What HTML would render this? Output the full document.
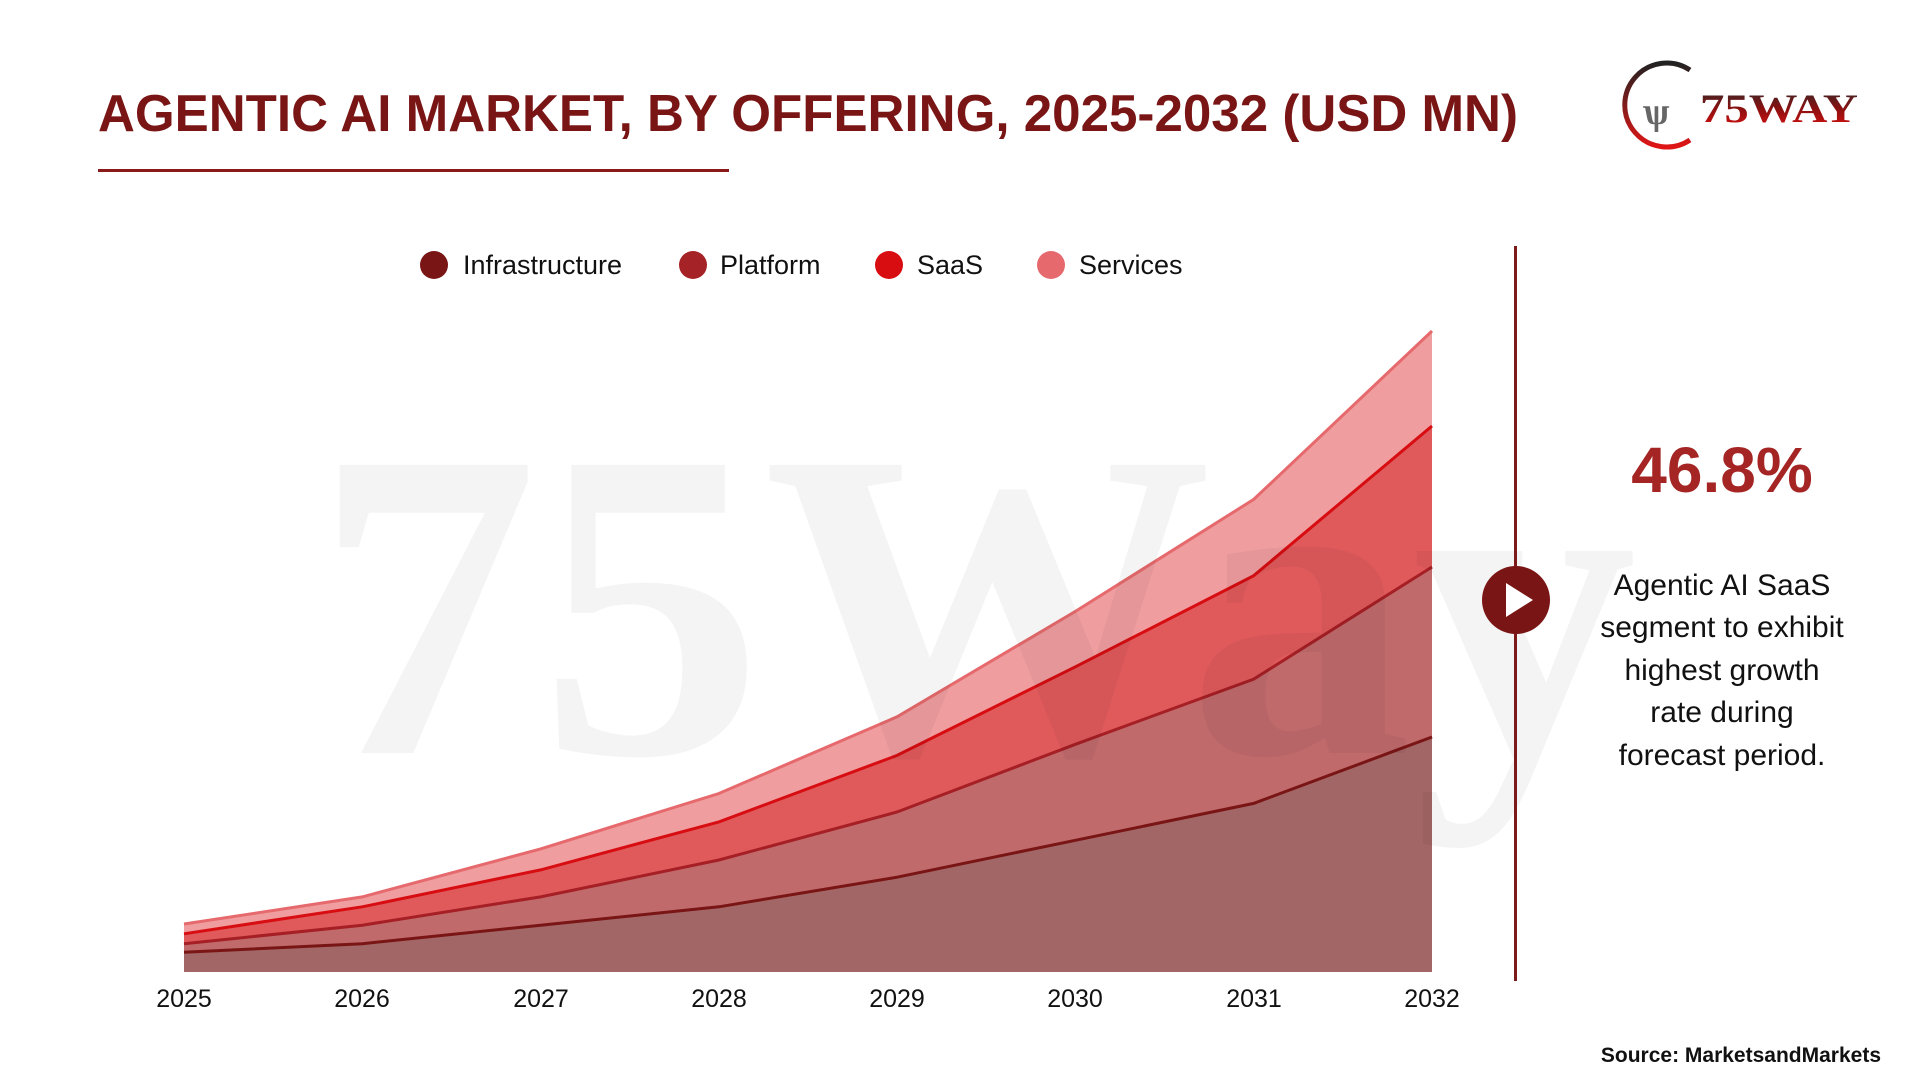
<!DOCTYPE html>
<html><head><meta charset="utf-8"><style>
html,body{margin:0;padding:0;background:#fff;}
svg{display:block;}
</style></head><body>
<svg width="1920" height="1080" viewBox="0 0 1920 1080" xmlns="http://www.w3.org/2000/svg" font-family="Liberation Sans, Arial, sans-serif">
<defs>
<linearGradient id="lg" x1="0" y1="0" x2="0" y2="1"><stop offset="0" stop-color="#2a2a2a"/><stop offset="0.5" stop-color="#8a1010"/><stop offset="1" stop-color="#e01010"/></linearGradient>
<linearGradient id="ag" x1="0" y1="0" x2="0" y2="1"><stop offset="0" stop-color="#222"/><stop offset="1" stop-color="#e01515"/></linearGradient>
</defs>
<rect width="1920" height="1080" fill="#fff"/>
<text x="98" y="131" font-size="52" font-weight="bold" fill="#7a1515" textLength="1420" lengthAdjust="spacingAndGlyphs">AGENTIC AI MARKET, BY OFFERING, 2025-2032 (USD MN)</text>
<rect x="98" y="169" width="631" height="3" fill="#8a1a1a"/>
<!-- logo -->
<path d="M1690 70 A42 42 0 1 0 1690 140" fill="none" stroke="url(#ag)" stroke-width="5"/>
<text x="1643" y="124" font-family="Liberation Serif, serif" font-weight="bold" font-size="38" fill="#666">ѱ</text>
<text x="1700" y="122" font-family="Liberation Serif, serif" font-weight="bold" font-size="40" fill="url(#lg)" textLength="158" lengthAdjust="spacingAndGlyphs">75WAY</text>
<!-- legend -->
<g font-size="27" fill="#111">
<circle cx="434" cy="265" r="14" fill="#7a1515"/><text x="463" y="274">Infrastructure</text>
<circle cx="693" cy="265" r="14" fill="#a52326"/><text x="720" y="274">Platform</text>
<circle cx="889" cy="265" r="14" fill="#d70d12"/><text x="917" y="274">SaaS</text>
<circle cx="1051" cy="265" r="14" fill="#e66a6d"/><text x="1079" y="274">Services</text>
</g>
<!-- areas -->
<polygon fill="#ef9d9f" points="184,924 362.3,896.9 540.6,848.9 718.9,793.5 897.1,716.8 1075.4,611.4 1253.7,499.4 1432,331 1432,972 184,972"/>
<polygon fill="#e05a5c" points="184,933.8 362.3,906.8 540.6,869.9 718.9,821.9 897.1,755.4 1075.4,666.8 1253.7,575.7 1432,426 1432,972 184,972"/>
<polygon fill="#c06a6c" points="184,943.7 362.3,925.2 540.6,896.9 718.9,860 897.1,812 1075.4,744.3 1253.7,679.1 1432,567 1432,972 184,972"/>
<polygon fill="#a36666" points="184,952.3 362.3,943.7 540.6,925.2 718.9,906.8 897.1,877.2 1075.4,840.3 1253.7,803.4 1432,737 1432,972 184,972"/>
<g fill="none" stroke-width="3">
<polyline stroke="#e66a6d" points="184,924 362.3,896.9 540.6,848.9 718.9,793.5 897.1,716.8 1075.4,611.4 1253.7,499.4 1432,331"/>
<polyline stroke="#d70d12" points="184,933.8 362.3,906.8 540.6,869.9 718.9,821.9 897.1,755.4 1075.4,666.8 1253.7,575.7 1432,426"/>
<polyline stroke="#a51f24" points="184,943.7 362.3,925.2 540.6,896.9 718.9,860 897.1,812 1075.4,744.3 1253.7,679.1 1432,567"/>
<polyline stroke="#7a1515" points="184,952.3 362.3,943.7 540.6,925.2 718.9,906.8 897.1,877.2 1075.4,840.3 1253.7,803.4 1432,737"/>
</g>
<!-- watermark -->
<text x="314" y="753" font-family="Liberation Serif, serif" font-weight="bold" font-size="440" fill="#000" fill-opacity="0.045" textLength="1323" lengthAdjust="spacingAndGlyphs">75Way</text>
<!-- x labels -->
<g font-size="25" fill="#111" text-anchor="middle">
<text x="184" y="1007">2025</text><text x="362" y="1007">2026</text><text x="541" y="1007">2027</text><text x="719" y="1007">2028</text><text x="897" y="1007">2029</text><text x="1075" y="1007">2030</text><text x="1254" y="1007">2031</text><text x="1432" y="1007">2032</text>
</g>
<!-- divider -->
<rect x="1514" y="246" width="3" height="735" fill="#7a1a1a"/>
<circle cx="1516" cy="600" r="34" fill="#7a1515"/>
<polygon points="1506,583 1506,617 1533,600" fill="#fff"/>
<text x="1722" y="492" font-size="64" font-weight="bold" fill="#a52525" text-anchor="middle">46.8%</text>
<g font-size="30" fill="#111" text-anchor="middle">
<text x="1722" y="595">Agentic AI SaaS</text>
<text x="1722" y="637">segment to exhibit</text>
<text x="1722" y="680">highest growth</text>
<text x="1722" y="722">rate during</text>
<text x="1722" y="765">forecast period.</text>
</g>
<text x="1881" y="1062" font-size="21" font-weight="bold" fill="#111" text-anchor="end">Source: MarketsandMarkets</text>
</svg>
</body></html>
